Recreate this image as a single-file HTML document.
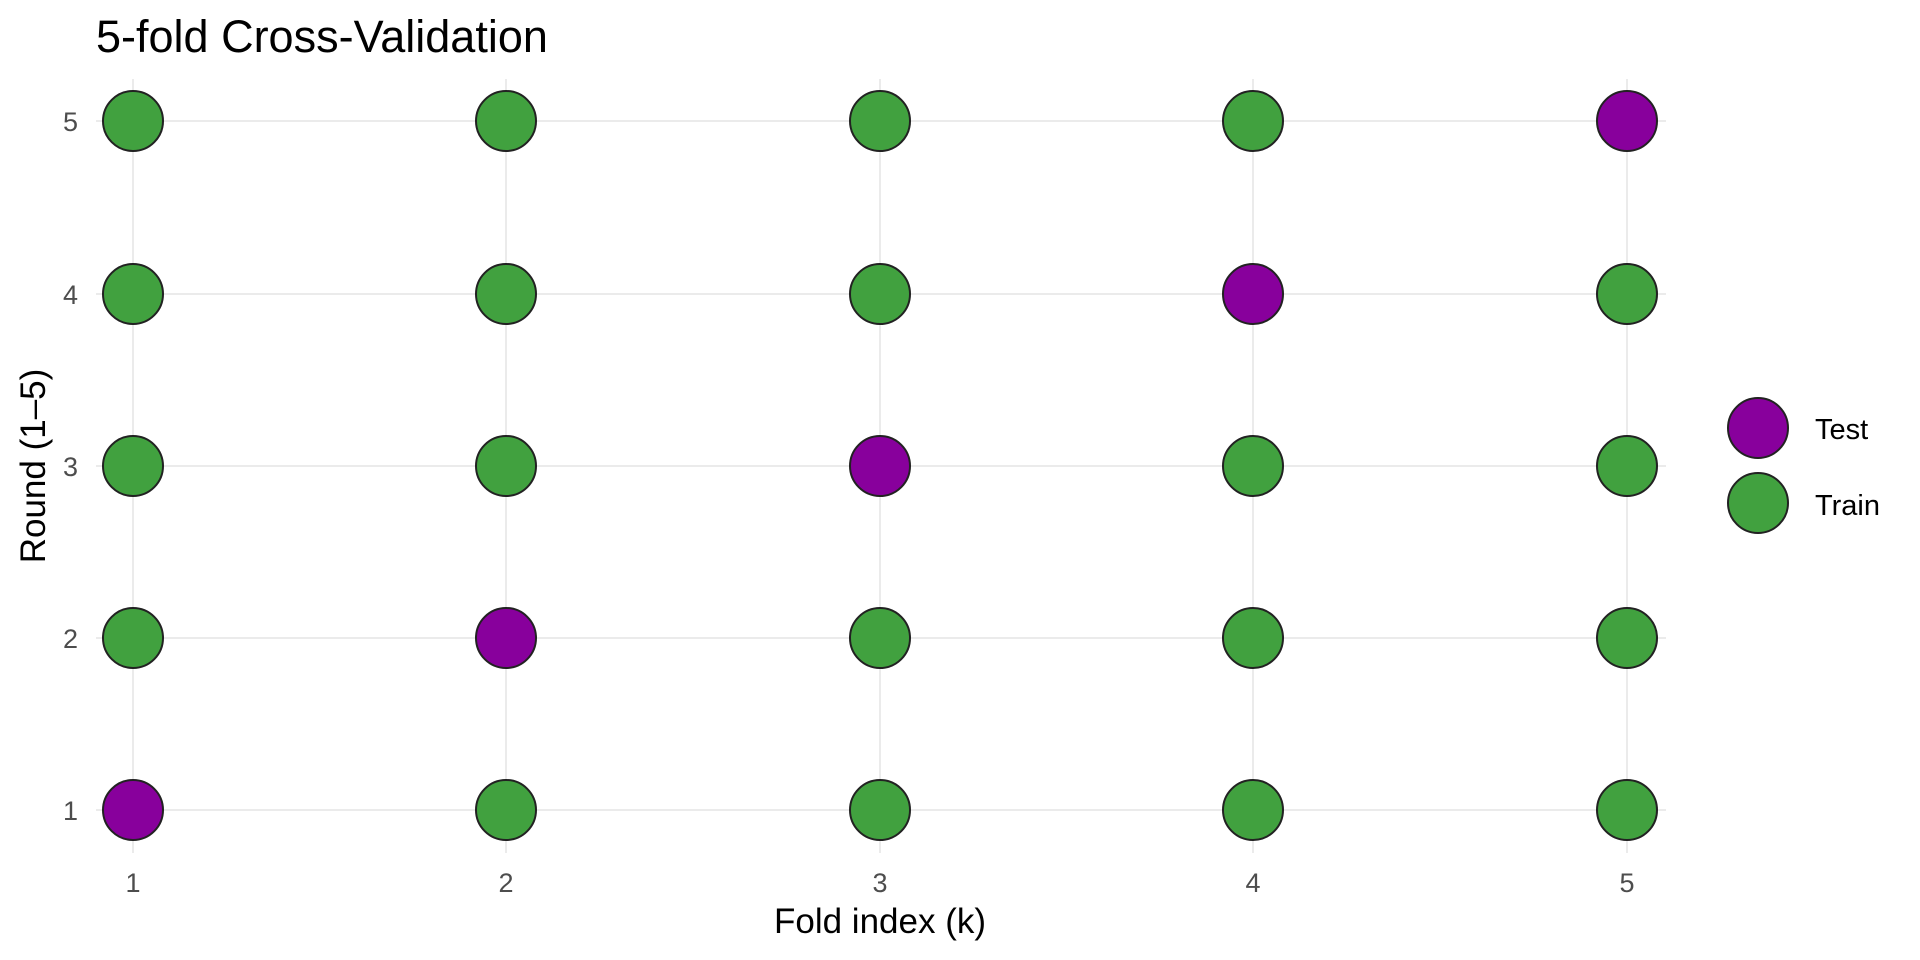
<!DOCTYPE html>
<html><head><meta charset="utf-8"><style>html,body{margin:0;padding:0;background:#fff}svg{display:block}</style></head>
<body>
<svg width="1920" height="960" viewBox="0 0 1920 960" xmlns="http://www.w3.org/2000/svg" font-family="Liberation Sans, Arial, sans-serif">
<rect width="1920" height="960" fill="#fff"/>
<g stroke="#ebebeb" stroke-width="2">
<line x1="96" x2="1666" y1="121" y2="121"/><line x1="96" x2="1666" y1="294" y2="294"/><line x1="96" x2="1666" y1="466" y2="466"/><line x1="96" x2="1666" y1="638" y2="638"/><line x1="96" x2="1666" y1="810" y2="810"/>
<line y1="79" y2="853" x1="133" x2="133"/><line y1="79" y2="853" x1="506" x2="506"/><line y1="79" y2="853" x1="880" x2="880"/><line y1="79" y2="853" x1="1253" x2="1253"/><line y1="79" y2="853" x1="1627" x2="1627"/>
</g>
<g stroke="#222" stroke-width="2">
<g fill="#41A13F">
<circle cx="506" cy="121" r="30"/><circle cx="880" cy="121" r="30"/><circle cx="1253" cy="121" r="30"/><circle cx="133" cy="121" r="30"/>
<circle cx="133" cy="294" r="30"/><circle cx="506" cy="294" r="30"/><circle cx="880" cy="294" r="30"/><circle cx="1627" cy="294" r="30"/>
<circle cx="133" cy="466" r="30"/><circle cx="506" cy="466" r="30"/><circle cx="1253" cy="466" r="30"/><circle cx="1627" cy="466" r="30"/>
<circle cx="133" cy="638" r="30"/><circle cx="880" cy="638" r="30"/><circle cx="1253" cy="638" r="30"/><circle cx="1627" cy="638" r="30"/>
<circle cx="506" cy="810" r="30"/><circle cx="880" cy="810" r="30"/><circle cx="1253" cy="810" r="30"/><circle cx="1627" cy="810" r="30"/>
<circle cx="1758" cy="503" r="30"/>
</g>
<g fill="#88009C">
<circle cx="1627" cy="121" r="30"/><circle cx="1253" cy="294" r="30"/><circle cx="880" cy="466" r="30"/><circle cx="506" cy="638" r="30"/><circle cx="133" cy="810" r="30"/>
<circle cx="1758" cy="428" r="30"/>
</g>
</g>
<text x="96" y="52" font-size="45" fill="#000">5-fold Cross-Validation</text>
<g font-size="27" fill="#4d4d4d" text-anchor="end">
<text x="78" y="131">5</text><text x="78" y="304">4</text><text x="78" y="476">3</text><text x="78" y="648">2</text><text x="78" y="820">1</text>
</g>
<g font-size="27" fill="#4d4d4d" text-anchor="middle">
<text x="133" y="892">1</text><text x="506" y="892">2</text><text x="880" y="892">3</text><text x="1253" y="892">4</text><text x="1627" y="892">5</text>
</g>
<text x="880" y="933" font-size="35" text-anchor="middle" fill="#000">Fold index (k)</text>
<text transform="translate(45,466) rotate(-90)" font-size="35" text-anchor="middle" fill="#000">Round (1–5)</text>
<g font-size="29" fill="#000">
<text x="1815" y="439">Test</text><text x="1815" y="515">Train</text>
</g>
</svg>
</body></html>
